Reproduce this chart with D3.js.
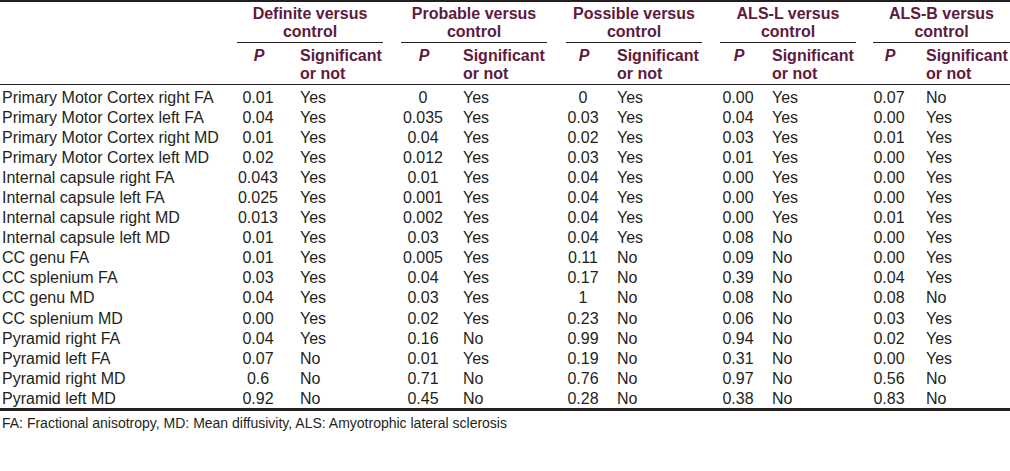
<!DOCTYPE html>
<html>
<head>
<meta charset="utf-8">
<script src="https://cdn.jsdelivr.net/npm/d3@7"></script>
<style>
  html, body { margin: 0; padding: 0; background: #fff; }
  svg { display: block; font-family: "Liberation Sans", Arial, Helvetica, sans-serif; }
</style>
</head>
<body>
<svg id="chart" width="1010" height="471"></svg>
<script>
// ---------- data ----------
const rowLabels = [
  "Primary Motor Cortex right FA",
  "Primary Motor Cortex left FA",
  "Primary Motor Cortex right MD",
  "Primary Motor Cortex left MD",
  "Internal capsule right FA",
  "Internal capsule left FA",
  "Internal capsule right MD",
  "Internal capsule left MD",
  "CC genu FA",
  "CC splenium FA",
  "CC genu MD",
  "CC splenium MD",
  "Pyramid right FA",
  "Pyramid left FA",
  "Pyramid right MD",
  "Pyramid left MD"
];
const groupTitles = [
  ["Definite versus", "control"],
  ["Probable versus", "control"],
  ["Possible versus", "control"],
  ["ALS-L versus", "control"],
  ["ALS-B versus", "control"]
];
const subHeaderP = "P";
const subHeaderSig = ["Significant", "or not"];

const definiteP = ["0.01","0.04","0.01","0.02","0.043","0.025","0.013","0.01","0.01","0.03","0.04","0.00","0.04","0.07","0.6","0.92"];
const definiteSig = ["Yes","Yes","Yes","Yes","Yes","Yes","Yes","Yes","Yes","Yes","Yes","Yes","Yes","No","No","No"];
const probableP = ["0","0.035","0.04","0.012","0.01","0.001","0.002","0.03","0.005","0.04","0.03","0.02","0.16","0.01","0.71","0.45"];
const probableSig = ["Yes","Yes","Yes","Yes","Yes","Yes","Yes","Yes","Yes","Yes","Yes","Yes","No","Yes","No","No"];
const possibleP = ["0","0.03","0.02","0.03","0.04","0.04","0.04","0.04","0.11","0.17","1","0.23","0.99","0.19","0.76","0.28"];
const possibleSig = ["Yes","Yes","Yes","Yes","Yes","Yes","Yes","Yes","No","No","No","No","No","No","No","No"];
const alsLP = ["0.00","0.04","0.03","0.01","0.00","0.00","0.00","0.08","0.09","0.39","0.08","0.06","0.94","0.31","0.97","0.38"];
const alsLSig = ["Yes","Yes","Yes","Yes","Yes","Yes","Yes","No","No","No","No","No","No","No","No","No"];
const alsBP = ["0.07","0.00","0.01","0.00","0.00","0.00","0.01","0.00","0.00","0.04","0.08","0.03","0.02","0.00","0.56","0.83"];
const alsBSig = ["No","Yes","Yes","Yes","Yes","Yes","Yes","Yes","Yes","Yes","No","Yes","Yes","Yes","No","No"];

const footnote = "FA: Fractional anisotropy, MD: Mean diffusivity, ALS: Amyotrophic lateral sclerosis";

// ---------- layout ----------
const W = 1010;
const headColor = "#5e1a3c";
const textColor = "#231f20";
const fontSize = 16;

const groupData = [
  { p: definiteP, sig: definiteSig },
  { p: probableP, sig: probableSig },
  { p: possibleP, sig: possibleSig },
  { p: alsLP, sig: alsLSig },
  { p: alsBP, sig: alsBSig }
];
// column geometry: group span [x0, x1], p-column center, sig-column left
const groupSpan = [[237,383],[401,547],[566,702],[720,856],[873,1010]];
const pCenter = [258, 423, 583, 738, 889];
const sigLeft = [300, 463, 617, 772, 926];

const svg = d3.select("#chart");

// row baselines via band scale
const y = d3.scaleBand().domain(d3.range(rowLabels.length)).range([87, 408]).paddingInner(0);
const yb = i => y(i) + y.bandwidth() / 2 + 5.8;

// rules
svg.append("rect").attr("x", 0).attr("y", 0).attr("width", W).attr("height", 2).attr("fill", textColor);
svg.append("rect").attr("x", 0).attr("y", 84).attr("width", W).attr("height", 1).attr("fill", textColor);
svg.append("rect").attr("x", 0).attr("y", 408).attr("width", W).attr("height", 3).attr("fill", textColor);
svg.selectAll("rect.under").data(groupSpan).enter().append("rect")
  .attr("class", "under")
  .attr("x", d => d[0]).attr("y", 42).attr("width", d => d[1] - d[0]).attr("height", 1)
  .attr("fill", textColor);

// group titles
const gt = svg.selectAll("g.gt").data(groupTitles).enter().append("g").attr("class", "gt");
gt.each(function(lines, gi) {
  const cx = (groupSpan[gi][0] + groupSpan[gi][1]) / 2;
  d3.select(this).selectAll("text").data(lines).enter().append("text")
    .attr("x", cx).attr("y", (d, li) => 19 + li * 18)
    .attr("text-anchor", "middle")
    .attr("font-weight", "bold")
    .attr("font-size", fontSize)
    .attr("fill", headColor)
    .text(d => d);
});

// sub headers
groupTitles.forEach((_, gi) => {
  svg.append("text")
    .attr("x", pCenter[gi] + 1).attr("y", 61)
    .attr("text-anchor", "middle")
    .attr("font-weight", "bold").attr("font-style", "italic")
    .attr("font-size", fontSize).attr("fill", headColor)
    .text(subHeaderP);
  subHeaderSig.forEach((s, li) => {
    svg.append("text")
      .attr("x", sigLeft[gi]).attr("y", 61 + li * 18)
      .attr("font-weight", "bold")
      .attr("font-size", fontSize).attr("fill", headColor)
      .text(s);
  });
});

// row labels
svg.selectAll("text.rl").data(rowLabels).enter().append("text")
  .attr("class", "rl")
  .attr("x", 2).attr("y", (d, i) => yb(i))
  .attr("font-size", fontSize).attr("fill", textColor)
  .text(d => d);

// body cells
groupData.forEach((g, gi) => {
  svg.selectAll("text.p" + gi).data(g.p).enter().append("text")
    .attr("class", "p" + gi)
    .attr("x", pCenter[gi]).attr("y", (d, i) => yb(i))
    .attr("text-anchor", "middle")
    .attr("font-size", fontSize).attr("fill", textColor)
    .text(d => d);
  svg.selectAll("text.s" + gi).data(g.sig).enter().append("text")
    .attr("class", "s" + gi)
    .attr("x", sigLeft[gi]).attr("y", (d, i) => yb(i))
    .attr("font-size", fontSize).attr("fill", textColor)
    .text(d => d);
});

// footnote
svg.append("text")
  .attr("x", 2).attr("y", 428)
  .attr("font-size", 14).attr("fill", textColor)
  .text(footnote);
</script>
</body>
</html>
